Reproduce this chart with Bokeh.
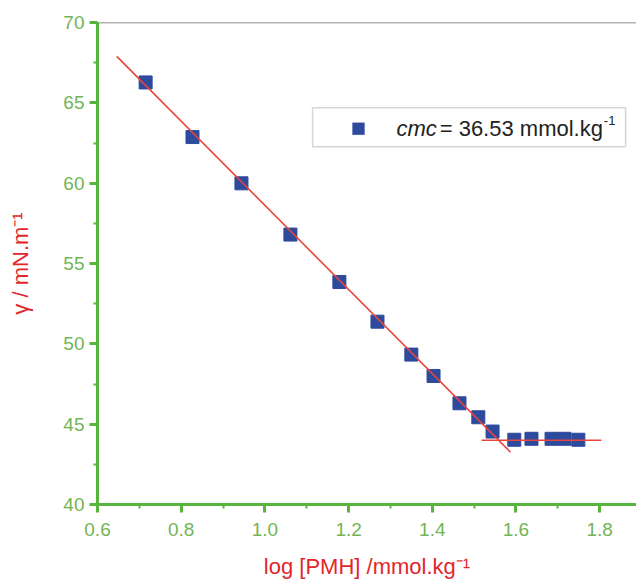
from bokeh.plotting import figure
from bokeh.models import Range1d, FixedTicker, PrintfTickFormatter, BoxAnnotation, Label, Span
from bokeh.embed import file_html
from bokeh.resources import INLINE

# data
log_pmh = [0.715, 0.827, 0.944, 1.061, 1.178, 1.269, 1.350, 1.403, 1.465, 1.510,
           1.544, 1.596, 1.637, 1.685, 1.716, 1.749]
gamma = [66.27, 62.87, 59.99, 56.80, 53.85, 51.38, 49.33, 48.00, 46.30, 45.43,
         44.54, 44.03, 44.09, 44.09, 44.09, 44.03]

fit_x = [0.646, 1.587]
fit_y = [67.89, 43.25]
plateau_x = [1.518, 1.804]
plateau_y = [44.0, 44.0]

x_ticks = [0.6, 0.8, 1.0, 1.2, 1.4, 1.6, 1.8]
x_minor = [0.7, 0.9, 1.1, 1.3, 1.5, 1.7]
y_ticks = [40, 45, 50, 55, 60, 65, 70]
y_minor = [42.5, 47.5, 52.5, 57.5, 62.5, 67.5]

x_title = "log [PMH] /mmol.kg⁻¹"
y_title = "γ / mN.m⁻¹"
legend_text = "= 36.53 mmol.kg"

FONT = "Liberation Sans"
AXIS_GREEN = "#58b43a"
TICK_GREEN = "#72b554"
RED = "#e2262b"
BLUE = "#2d4a9c"

p = figure(width=636, height=581, output_backend="svg", toolbar_location=None,
           x_range=Range1d(0.6, 1.888), y_range=Range1d(40, 70))
p.min_border_left = 97
p.min_border_top = 22
p.min_border_bottom = 77
p.min_border_right = 0
p.outline_line_color = None
p.grid.visible = False
p.background_fill_color = "white"
p.border_fill_color = "white"

for ax, ticks, minor in ((p.xaxis[0], x_ticks, x_minor), (p.yaxis[0], y_ticks, y_minor)):
    ax.ticker = FixedTicker(ticks=ticks, minor_ticks=minor)
    ax.axis_line_color = AXIS_GREEN
    ax.axis_line_width = 3
    ax.major_tick_line_color = AXIS_GREEN
    ax.major_tick_line_width = 3
    ax.minor_tick_line_color = AXIS_GREEN
    ax.minor_tick_line_width = 2
    ax.major_tick_in = 0
    ax.major_tick_out = 8
    ax.minor_tick_in = 0
    ax.minor_tick_out = 4
    ax.major_label_text_color = TICK_GREEN
    ax.major_label_text_font = FONT
    ax.major_label_text_font_size = "19px"
    ax.axis_label_text_color = RED
    ax.axis_label_text_font = FONT
    ax.axis_label_text_font_size = "22px"
    ax.axis_label_text_font_style = "normal"

p.xaxis[0].formatter = PrintfTickFormatter(format="%.1f")
p.yaxis[0].formatter = PrintfTickFormatter(format="%d")
p.xaxis[0].axis_label = x_title
p.yaxis[0].axis_label = y_title
p.xaxis[0].major_label_standoff = 10
p.xaxis[0].axis_label_standoff = 15
p.yaxis[0].major_label_standoff = 5
p.yaxis[0].axis_label_standoff = 27

p.add_layout(Span(location=70, dimension="width", line_color="#666666", line_width=1.5))

p.scatter(log_pmh, gamma, marker="square", size=13, fill_color=BLUE, line_color=BLUE)
p.line(fit_x, fit_y, line_color="#e8453c", line_width=1.6)
p.line(plateau_x, plateau_y, line_color="#e8453c", line_width=1.6)

# legend box (drawn by hand so that "cmc" can be italic)
p.add_layout(BoxAnnotation(left=1.114, right=1.862, top=64.69, bottom=62.26,
                           fill_color="white", fill_alpha=1.0,
                           line_color="#777777", line_width=1.5, level="overlay"))
p.add_layout(BoxAnnotation(left=1.2237 - 0.0143, right=1.2237 + 0.0143,
                           top=63.39 + 0.37, bottom=63.39 - 0.37,
                           fill_color=BLUE, fill_alpha=1.0, line_color=BLUE, level="overlay"))
p.add_layout(Label(x=1.3145, y=63.39, text="cmc", text_font=FONT, text_font_size="22px",
                   text_font_style="italic", text_baseline="middle", text_color="#222222",
                   level="overlay"))
p.add_layout(Label(x=1.8078, y=63.39, text=legend_text, text_font=FONT, text_font_size="22px",
                   text_align="right", text_baseline="middle", text_color="#222222",
                   level="overlay"))
p.add_layout(Label(x=1.8100, y=63.90, text="-1", text_font=FONT, text_font_size="13px",
                   text_baseline="middle", text_color="#222222", level="overlay"))

open("out.html", "w").write(file_html(p, INLINE))
